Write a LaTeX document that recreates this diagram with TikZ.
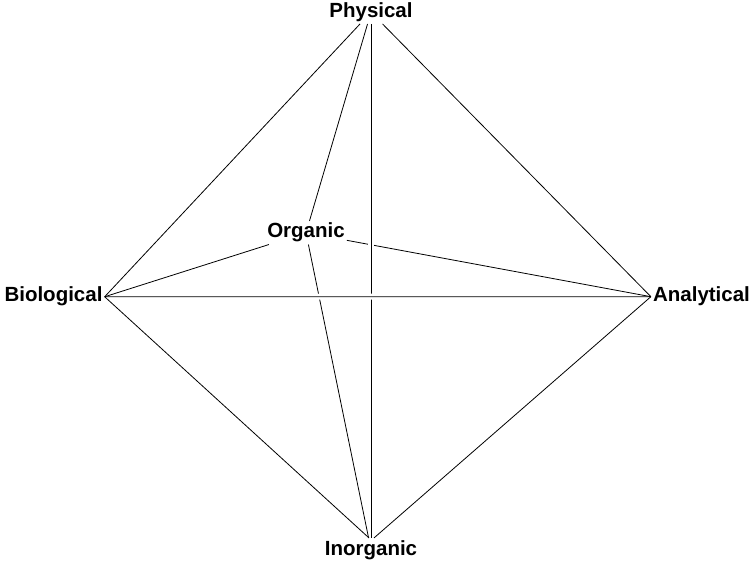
\documentclass[tikz,border=0pt]{standalone}
\usepackage{fontspec}
\setmainfont{Liberation Sans}
\usepackage{tikz}
\usetikzlibrary{arrows,positioning}

\tikzset{
  corner/.style={font=\fontsize{20.5}{24}\selectfont\bfseries, inner sep=2pt, anchor=base},
  edge/.style={draw=black, line width=0.8pt},
  crossgap/.style={draw=white, line width=6pt, shorten >=40pt, shorten <=40pt}
}

\begin{document}
\begin{tikzpicture}[x=1pt,y=-1pt]
  \useasboundingbox (0,0) rectangle (756,564);
  \node[corner] (phys) at (371,17.5) {Physical};
  \node[corner] (bio) at (53.5,302) {Biological};
  \node[corner] (anal) at (701.5,302) {Analytical};
  \node[corner] (inorg) at (371,555) {Inorganic};
  \node[corner] (org) at (306,238) {Organic};
  % outer edges
  \draw[edge] (phys) to (bio.east);
  \draw[edge] (phys) to (anal.west);
  \draw[edge] (bio.east) to ([xshift=-2pt]inorg.north);
  \draw[edge] (anal.west) to ([xshift=3pt]inorg.north);
  % edges to the back corner
  \draw[edge] (bio.east) to (org);
  \draw[edge] (phys) to (org);
  \draw[edge] (org) to (anal.west);
  % vertical axis, passes in front
  \draw[crossgap] (phys) to (inorg);
  \draw[edge] (phys) to (inorg);
  \draw[edge] (org) to (inorg);
  % horizontal axis, passes in front of all
  \draw[crossgap] (bio.east) to (anal.west);
  \draw[edge] (bio.east) to (anal.west);
\end{tikzpicture}
\end{document}
